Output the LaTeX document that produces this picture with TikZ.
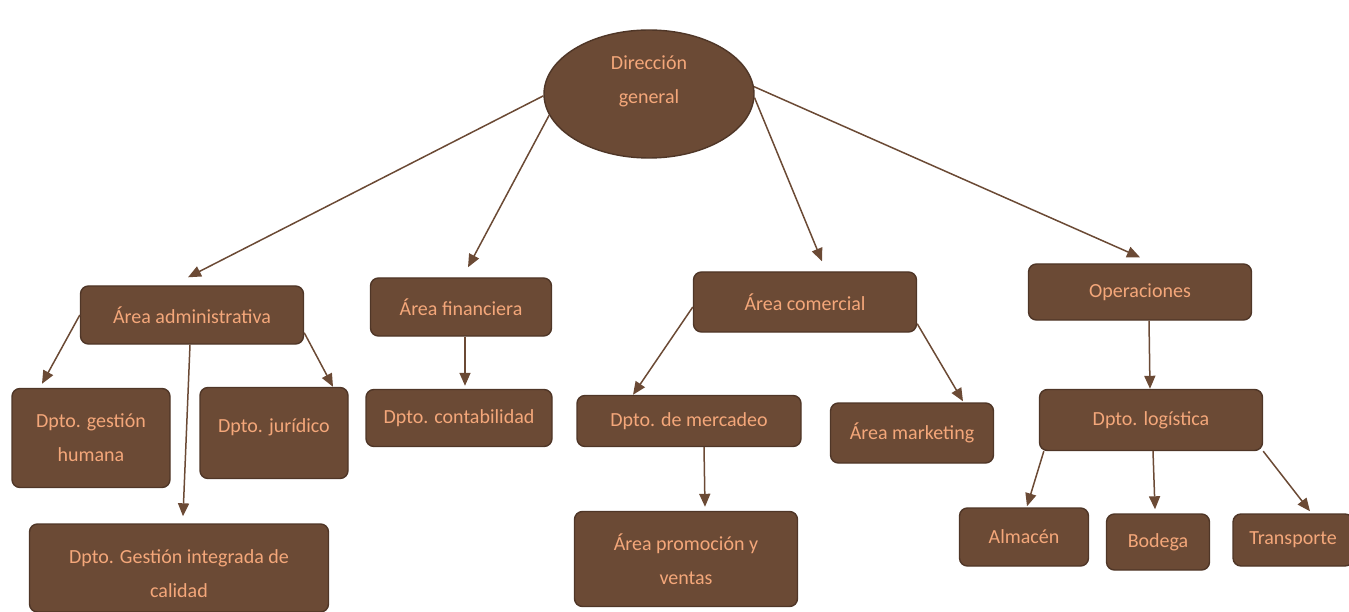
\documentclass[tikz,border=0pt]{standalone}
\usepackage{fontspec}
\setmainfont{Carlito}
\usetikzlibrary{arrows.meta,shapes.geometric}
\definecolor{cafe}{HTML}{6B4A35}
\definecolor{cafeborde}{HTML}{4F3627}
\definecolor{durazno}{HTML}{F4A77A}
% texto desplazado dentro de la caja
\newcommand{\subir}[2]{\raisebox{#1}[\height][\depth]{\begin{tabular}{@{}c@{}}#2\end{tabular}}}
\tikzset{
  caja/.style={draw=cafeborde, fill=cafe, text=durazno, line width=1.4pt,
    rounded corners=8pt, align=center, inner sep=2pt,
    font=\fontsize{20}{34}\selectfont},
  flecha/.style={-{Triangle[length=13pt,width=11pt]}, draw=cafe, line width=1.5pt}
}
\begin{document}
\begin{tikzpicture}[x=1pt,y=-1pt]
\useasboundingbox (0,0) rectangle (1349,612);

% direccion general
\node[caja, ellipse, rounded corners=0pt, minimum width=210pt, minimum height=128pt] (dg) at (649,94) {\subir{14pt}{Dirección\\general}};

% areas
\node[caja, minimum width=223pt, minimum height=58pt] (adm) at (192,315) {Área administrativa};
\node[caja, minimum width=181pt, minimum height=58pt] (fin) at (461,307) {Área financiera};
\node[caja, minimum width=223pt, minimum height=60pt] (com) at (805,302) {Área comercial};
\node[caja, minimum width=223pt, minimum height=56pt] (ops) at (1140,292) {Operaciones};

% departamentos
\node[caja, minimum width=158pt, minimum height=99pt] (hum) at (91,438) {Dpto. gestión\\humana};
\node[caja, minimum width=148pt, minimum height=91pt] (jur) at (274,433) {\subir{7pt}{Dpto. jurídico}};
\node[caja, minimum width=299pt, minimum height=88pt] (cal) at (179,568) {\subir{-6pt}{Dpto. Gestión integrada de\\calidad}};
\node[caja, minimum width=186pt, minimum height=57pt] (con) at (459,418) {Dpto. contabilidad};
\node[caja, minimum width=224pt, minimum height=51pt] (mer) at (689,421) {Dpto. de mercadeo};
\node[caja, minimum width=163pt, minimum height=60pt] (mkt) at (912,433) {Área marketing};
\node[caja, minimum width=223pt, minimum height=95pt] (pro) at (686,559) {Área promoción y\\ventas};
\node[caja, minimum width=223pt, minimum height=61pt] (log) at (1151,420) {Dpto. logística};
\node[caja, minimum width=129pt, minimum height=58pt] (alm) at (1024,537) {Almacén};
\node[caja, minimum width=103pt, minimum height=56pt] (bod) at (1158,542) {Bodega};
\node[caja, minimum width=120pt, minimum height=52pt] (tra) at (1293,540) {Transporte};

% flechas
\draw[flecha] (dg.181) -- ([xshift=-4pt,yshift=8pt]adm.north);
\draw[flecha] (dg.192) -- ([xshift=7pt,yshift=10pt]fin.north);
\draw[flecha] (dg.358) -- ([xshift=17pt,yshift=10pt]com.north);
\draw[flecha] (dg.4) -- ([yshift=6pt]ops.north);

\draw[flecha] (adm.west) -- ([xshift=-49pt,yshift=4pt]hum.north);
\draw[flecha] ([xshift=-2pt]adm.south) -- ([xshift=4pt,yshift=7pt]cal.north);
\draw[flecha] ([yshift=12pt]adm.south east) -- ([xshift=59pt]jur.north);
\draw[flecha] ([xshift=4pt]fin.south) -- ([xshift=6pt,yshift=3pt]con.north);
\draw[flecha] ([yshift=-5pt]com.west) -- ([xshift=-56pt]mer.north);
\draw[flecha] ([yshift=9pt]com.south east) -- ([xshift=51pt,yshift=1pt]mkt.north);
\draw[flecha] ([xshift=15pt]mer.south) -- ([xshift=19pt,yshift=4pt]pro.north);
\draw[flecha] ([xshift=9pt]ops.south) -- ([xshift=-1pt]log.north);
\draw[flecha] ([xshift=5pt]log.south west) -- ([xshift=3pt,yshift=1pt]alm.north);
\draw[flecha] ([xshift=2pt]log.south) -- ([xshift=-3pt,yshift=4pt]bod.north);
\draw[flecha] (log.south east) -- ([xshift=17pt,yshift=2pt]tra.north);
\end{tikzpicture}
\end{document}
